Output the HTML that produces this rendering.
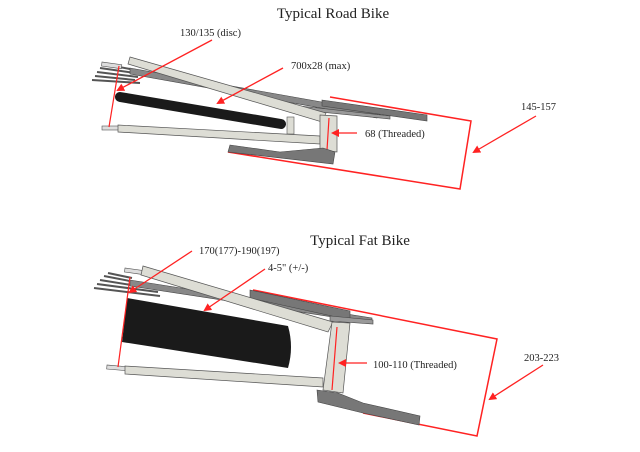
<!DOCTYPE html>
<html><head><meta charset="utf-8"><style>
html,body{margin:0;padding:0;background:#fff;width:640px;height:452px;overflow:hidden}
svg{display:block}
text{font-family:"Liberation Serif",serif;fill:#222}
</style></head><body>
<svg width="640" height="452" viewBox="0 0 640 452" xmlns="http://www.w3.org/2000/svg">
<defs>
<marker id="ah" markerWidth="8" markerHeight="8" refX="6" refY="4" orient="auto" markerUnits="userSpaceOnUse"><path d="M0,0 L8,4 L0,8 z" fill="#f22"/></marker>
</defs>

<!-- ROAD BIKE -->
<text x="333" y="18" font-size="15" text-anchor="middle">Typical Road Bike</text>
<text x="180" y="36" font-size="10.5">130/135 (disc)</text>
<text x="291" y="69" font-size="10.5">700x28 (max)</text>
<text x="365" y="137" font-size="10.5">68 (Threaded)</text>
<text x="521" y="110" font-size="10.5">145-157</text>

<polyline points="330,97 471,121 460,189 228,152" fill="none" stroke="#f22" stroke-width="1.5"/>
<g stroke="#555" stroke-width="2">
<line x1="95" y1="76" x2="135" y2="80"/><line x1="97" y1="72" x2="138" y2="77"/><line x1="100" y1="68" x2="135" y2="73"/><line x1="103" y1="64" x2="130" y2="69"/><line x1="92" y1="80" x2="140" y2="83"/>
</g>
<rect x="102" y="62" width="20" height="4" fill="#ddd" stroke="#555" stroke-width="0.6" transform="rotate(8 102 62)"/>
<rect x="102" y="126" width="18" height="4" fill="#ddd" stroke="#555" stroke-width="0.6"/>
<polygon points="130,68 378,112 377,118 130,74" fill="#888" stroke="#444" stroke-width="0.6"/>
<polygon points="322,100 427,115 427,121 322,106" fill="#777" stroke="#444" stroke-width="0.6"/>
<polygon points="300,106 390,116 390,119 300,110" fill="#999" stroke="#444" stroke-width="0.6"/>
<polygon points="130,57 326,113 322,122 128,64" fill="#ddddd5" stroke="#555" stroke-width="0.7"/>
<line x1="120" y1="97" x2="281" y2="124" stroke="#1a1a1a" stroke-width="10" stroke-linecap="round"/>
<rect x="287" y="117" width="7" height="17" fill="#ddddd5" stroke="#555" stroke-width="0.6"/>
<polygon points="118,125 320,136 320,144 118,132" fill="#ddddd5" stroke="#555" stroke-width="0.7"/>
<polygon points="320,115 337,116 337,152 320,150" fill="#ddddd5" stroke="#555" stroke-width="0.7"/>
<line x1="329" y1="118" x2="327" y2="150" stroke="#f22" stroke-width="1.2"/>
<polygon points="230,145 280,152 323,148 335,152 333,164 228,152" fill="#777" stroke="#444" stroke-width="0.6"/>
<line x1="119" y1="66" x2="109" y2="127" stroke="#f22" stroke-width="1.2"/>
<g stroke="#f22" stroke-width="1.3" fill="none" marker-end="url(#ah)">
<line x1="212" y1="40" x2="118" y2="90"/>
<line x1="283" y1="68" x2="218" y2="103"/>
<line x1="357" y1="133" x2="333" y2="133"/>
<line x1="536" y1="116" x2="474" y2="152"/>
</g>

<!-- FAT BIKE -->
<text x="360" y="245" font-size="15" text-anchor="middle">Typical Fat Bike</text>
<text x="199" y="254" font-size="10.5">170(177)-190(197)</text>
<text x="268" y="271" font-size="10.5">4-5" (+/-)</text>
<text x="373" y="368" font-size="10.5">100-110 (Threaded)</text>
<text x="524" y="361" font-size="10.5">203-223</text>

<polyline points="253,290 497,339 477,436 363,413" fill="none" stroke="#f22" stroke-width="1.5"/>
<g stroke="#555" stroke-width="2">
<line x1="94" y1="288" x2="160" y2="296"/><line x1="97" y1="284" x2="158" y2="292"/><line x1="100" y1="280" x2="150" y2="288"/><line x1="104" y1="276" x2="140" y2="283"/><line x1="108" y1="273" x2="132" y2="278"/>
</g>
<rect x="125" y="268" width="20" height="4" fill="#ddd" stroke="#555" stroke-width="0.6" transform="rotate(8 125 268)"/>
<rect x="107" y="365" width="20" height="4" fill="#ddd" stroke="#555" stroke-width="0.6" transform="rotate(5 107 365)"/>
<polygon points="130,280 372,318 372,323 130,286" fill="#888" stroke="#444" stroke-width="0.6"/>
<polygon points="250,290 350,311 350,320 250,298" fill="#777" stroke="#444" stroke-width="0.6"/>
<polygon points="330,316 373,320 373,324 330,321" fill="#999" stroke="#444" stroke-width="0.6"/>
<polygon points="143,266 333,322 328,332 141,275" fill="#ddddd5" stroke="#555" stroke-width="0.7"/>
<path d="M127,298 L288,326 Q294,347 288,368 L122,342 Z" fill="#1a1a1a"/>
<polygon points="125,366 323,378 323,387 125,374" fill="#ddddd5" stroke="#555" stroke-width="0.7"/>
<polygon points="332,322 350,323 343,393 323,390" fill="#ddddd5" stroke="#555" stroke-width="0.7"/>
<line x1="337" y1="327" x2="332" y2="390" stroke="#f22" stroke-width="1.2"/>
<polygon points="317,390 338,393 363,403 420,416 419,425 363,413 318,402" fill="#777" stroke="#444" stroke-width="0.6"/>
<line x1="130" y1="277" x2="118" y2="367" stroke="#f22" stroke-width="1.2"/>
<g stroke="#f22" stroke-width="1.3" fill="none" marker-end="url(#ah)">
<line x1="192" y1="251" x2="130" y2="292"/>
<line x1="265" y1="269" x2="205" y2="310"/>
<line x1="367" y1="363" x2="340" y2="363"/>
<line x1="543" y1="365" x2="490" y2="399"/>
</g>
</svg>
</body></html>
